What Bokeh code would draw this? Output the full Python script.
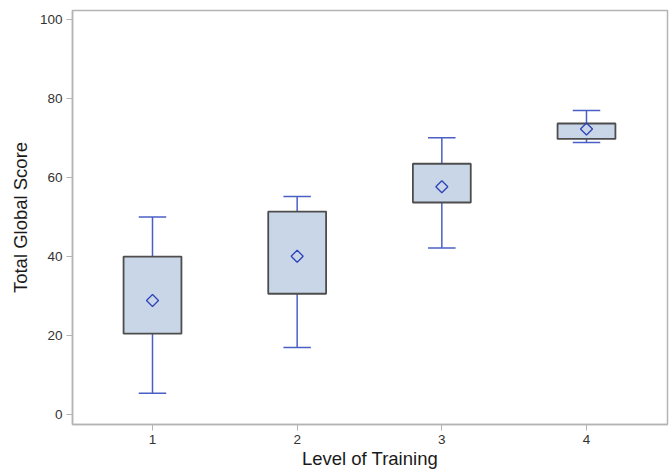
import numpy as np
from bokeh.plotting import figure
from bokeh.models import Range1d, FixedTicker
from bokeh.embed import file_html
from bokeh.resources import INLINE

levels = [1, 2, 3, 4]
whisker_low = [5.4, 17.0, 42.2, 68.9]
q1 = [20.5, 30.6, 53.7, 69.8]
q3 = [40.0, 51.4, 63.5, 73.7]
whisker_high = [50.0, 55.2, 70.1, 77.0]
means = [28.9, 40.1, 57.7, 72.3]

y_ticks = [0, 20, 40, 60, 80, 100]

FONT = "Liberation Sans"
box_w = 0.40
cap_w = 0.19

p = figure(width=670, height=473, output_backend="svg", toolbar_location=None,
           x_range=Range1d(0.447, 4.56), y_range=Range1d(-2.5, 102.3),
           min_border_left=72, min_border_top=10, min_border_bottom=49, min_border_right=3)

p.xgrid.visible = False
p.ygrid.visible = False
p.outline_line_color = "#b4b4b4"
p.outline_line_width = 1.5

for ax in (p.xaxis, p.yaxis):
    ax.axis_line_color = "#b4b4b4"
    ax.axis_line_width = 1.5
    ax.major_tick_line_color = "#b4b4b4"
    ax.major_tick_out = 6
    ax.major_tick_in = 0
    ax.minor_tick_line_color = None
    ax.major_label_text_font = FONT
    ax.major_label_text_font_size = "13.5px"
    ax.major_label_text_color = "#333333"
    ax.axis_label_text_font = FONT
    ax.axis_label_text_font_size = "18.5px"
    ax.axis_label_text_font_style = "normal"
    ax.axis_label_text_color = "#1a1a1a"

p.xaxis.ticker = FixedTicker(ticks=levels)
p.yaxis.ticker = FixedTicker(ticks=y_ticks)
p.xaxis.axis_label = "Level of Training"
p.yaxis.axis_label = "Total Global Score"
p.xaxis.major_label_standoff = 4
p.yaxis.major_label_standoff = 4
p.xaxis.axis_label_standoff = 1
p.yaxis.axis_label_standoff = 6

wcol = "#4a5fc4"
# whiskers
p.segment(x0=levels, y0=q3, x1=levels, y1=whisker_high, line_color=wcol, line_width=1.5)
p.segment(x0=levels, y0=q1, x1=levels, y1=whisker_low, line_color=wcol, line_width=1.5)
# caps
xs = np.array(levels, dtype=float)
p.segment(x0=xs - cap_w / 2, y0=whisker_high, x1=xs + cap_w / 2, y1=whisker_high, line_color=wcol, line_width=1.5)
p.segment(x0=xs - cap_w / 2, y0=whisker_low, x1=xs + cap_w / 2, y1=whisker_low, line_color=wcol, line_width=1.5)
# boxes
p.vbar(x=levels, width=box_w, bottom=q1, top=q3, fill_color="#c8d6e7",
       line_color="#4d4d4d", line_width=1.8)
# means
p.scatter(x=levels, y=means, marker="square", angle=np.pi / 4, size=8.5,
          fill_color=None, line_color="#2e42b8", line_width=1.3)

open("out.html", "w").write(file_html(p, INLINE))
